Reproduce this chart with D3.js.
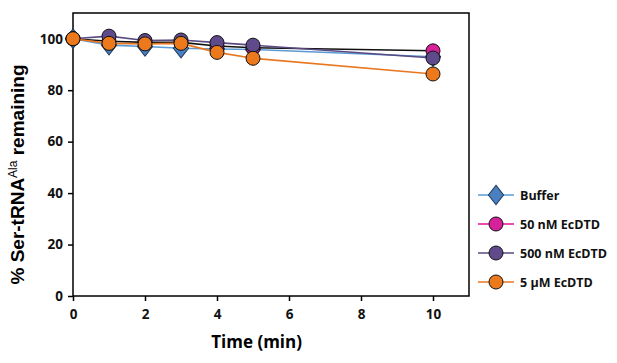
<!DOCTYPE html>
<html>
<head>
<meta charset="utf-8">
<script src="https://cdn.jsdelivr.net/npm/d3@7"></script>
<style>
  body { margin: 0; background: #fff; }
  svg text { font-family: "Open Sans", "Liberation Sans", sans-serif; }
</style>
</head>
<body>
<div id="chart"></div>
<script>
// Ser-tRNA deacylation time course
const times = [0, 1, 2, 3, 4, 5, 10];
const bufferVals = [100, 97.5, 97, 96.3, 96, 95.8, 93];
const nm50Vals = [100, 99, 98.6, 98.6, 97.2, 96.5, 95.3];
const nm500Vals = [100, 101, 99.3, 99.5, 98.5, 97.5, 92.5];
const um5Vals = [100, 98.2, 98, 98.2, 94.7, 92.4, 86.3];
const xTicks = [0, 2, 4, 6, 8, 10];
const yTicks = [0, 20, 40, 60, 80, 100];

const series = [
    { name: 'Buffer', values: bufferVals, line: '#5b9bd5', legendLine: '#5b9bd5', fill: '#4a7fc1', shape: 'diamond' },
    { name: '50 nM EcDTD', values: nm50Vals, line: '#111', legendLine: '#e0119a', fill: '#d6219b', shape: 'circle' },
    { name: '500 nM EcDTD', values: nm500Vals, line: '#5a4a82', legendLine: '#5a4a82', fill: '#5f4b8b', shape: 'circle' },
    { name: '5 \u00b5M EcDTD', values: um5Vals, line: '#e87722', legendLine: '#e87722', fill: '#ec7a1c', shape: 'circle' }
];

const margin = { top: 13, left: 73, right: 148, bottom: 67 };
const W = 617, H = 363;
const width = W - margin.left - margin.right;
const height = H - margin.top - margin.bottom;

const svg = d3.select('#chart').append('svg')
    .attr('width', W)
    .attr('height', H);

const g = svg.append('g')
    .attr('transform', `translate(${margin.left},${margin.top})`);

const xScale = d3.scaleLinear().domain([0, 11]).range([0, width]);
const yScale = d3.scaleLinear().domain([0, 110]).range([height, 0]);

// frame
g.append('rect')
    .attr('width', width)
    .attr('height', height)
    .style('fill', 'none')
    .style('stroke', '#000')
    .style('stroke-width', 1.5);

const xAxis = g.append('g')
    .attr('transform', `translate(0,${height})`)
    .call(d3.axisBottom(xScale).tickValues(xTicks).tickSize(5).tickPadding(8));
const yAxis = g.append('g')
    .call(d3.axisLeft(yScale).tickValues(yTicks).tickSize(5).tickPadding(5));

[xAxis, yAxis].forEach(ax => {
    ax.select('.domain').remove();
    ax.selectAll('line').style('stroke', '#000').style('stroke-width', 1.5);
    ax.selectAll('text')
        .style('font-size', '13.5px')
        .style('font-weight', 'bold')
        .style('fill', '#111');
});

// axis titles
g.append('text')
    .attr('x', xScale(5.1))
    .attr('y', height + 52)
    .style('text-anchor', 'middle')
    .style('font-size', '17px')
    .style('font-weight', 'bold')
    .text('Time (min)');

const yTitle = g.append('text')
    .attr('transform', `translate(-49,${height / 2 + 20}) rotate(-90)`)
    .style('text-anchor', 'middle')
    .style('font-size', '19px')
    .style('font-weight', 'bold')
    .style('font-family', '"Liberation Sans", Arial, sans-serif');
yTitle.append('tspan').text('% Ser-tRNA');
yTitle.append('tspan').attr('dy', -7).style('font-size', '12px').style('font-weight', 'normal').text('Ala');
yTitle.append('tspan').attr('dy', 7).text(' remaining');

const line = d3.line()
    .x(d => xScale(d.t))
    .y(d => yScale(d.v));

const diamond = d3.symbol().type(d3.symbolDiamond).size(110);

function drawMarker(sel, s, x, y) {
    if (s.shape === 'diamond') {
        sel.append('path')
            .attr('d', diamond)
            .attr('transform', `translate(${x},${y}) scale(1.35,1)`)
            .style('fill', s.fill)
            .style('stroke', '#1f3b5c')
            .style('stroke-width', 0.8);
    } else {
        sel.append('circle')
            .attr('cx', x)
            .attr('cy', y)
            .attr('r', 7)
            .style('fill', s.fill)
            .style('stroke', '#111')
            .style('stroke-width', 1);
    }
}

series.forEach(s => {
    const pts = times.map((t, i) => ({ t: t, v: s.values[i] }));
    g.append('path')
        .datum(pts)
        .attr('d', line)
        .style('fill', 'none')
        .style('stroke', s.line)
        .style('stroke-width', 1.6);
    pts.forEach(p => drawMarker(g, s, xScale(p.t), yScale(p.v)));
});

// legend
const legend = svg.append('g').attr('transform', 'translate(478,195)');
series.forEach((s, i) => {
    const row = legend.append('g').attr('transform', `translate(0,${i * 29})`);
    row.append('line')
        .attr('x1', 0).attr('x2', 36)
        .style('stroke', s.legendLine)
        .style('stroke-width', 1.6);
    drawMarker(row, s, 18, 0);
    row.append('text')
        .attr('x', 42)
        .attr('y', 4.5)
        .style('font-size', '12.5px')
        .style('font-weight', 'bold')
        .style('fill', '#111')
        .text(s.name);
});
</script>
</body>
</html>
